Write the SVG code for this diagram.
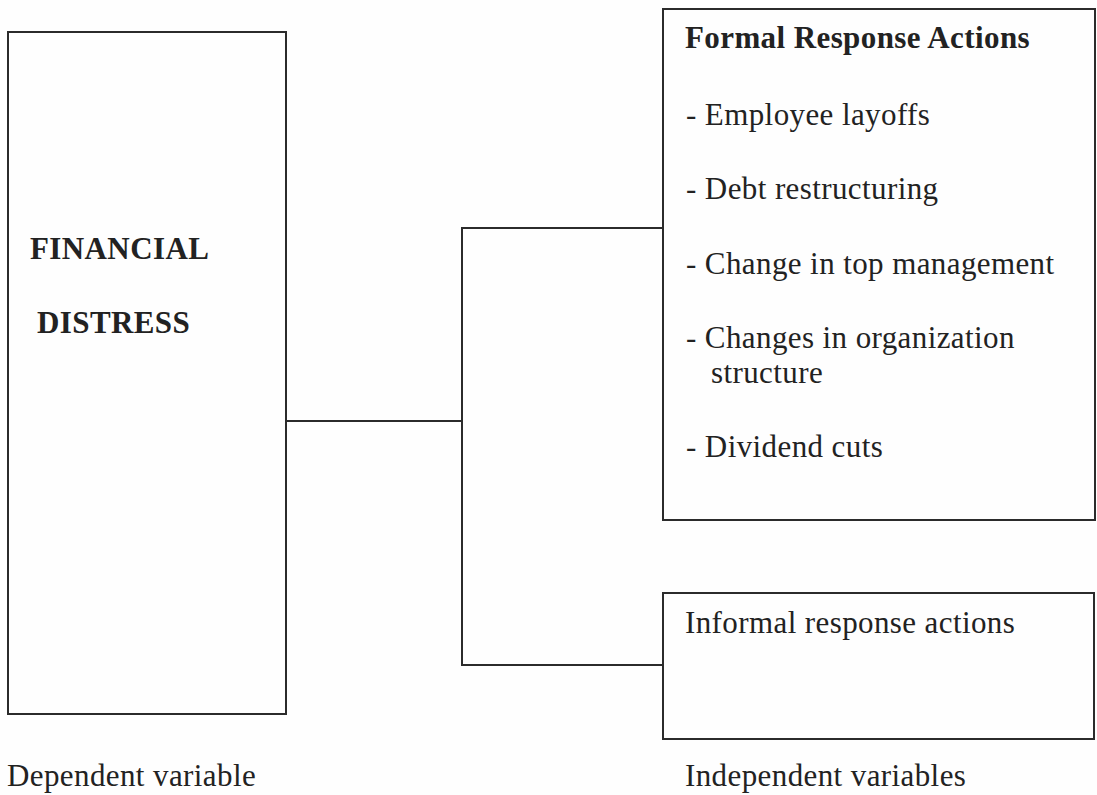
<svg xmlns="http://www.w3.org/2000/svg" width="1097" height="795" viewBox="0 0 1097 795">
<style>
.box{fill:none;stroke:#2b2b2b;stroke-width:2}
.conn{fill:none;stroke:#2b2b2b;stroke-width:2}
text{font-family:"Liberation Serif","Times New Roman",serif;fill:#222;font-size:31px;letter-spacing:0.4px}
.b{font-weight:bold}
</style>
<rect width="1097" height="795" fill="#fefefe"/>
<g id="connectors">
<polyline class="conn" points="286,421 462,421"/>
<polyline class="conn" points="663,228 462,228 462,665 663,665"/>
</g>
<g id="financial-distress">
<rect class="box" x="8" y="32" width="278" height="682"/>
<text class="b" x="30" y="259">FINANCIAL</text>
<text class="b" x="37" y="333">DISTRESS</text>
</g>
<g id="formal-response">
<rect class="box" x="663" y="9" width="432" height="511"/>
<text class="b" x="685" y="48">Formal Response Actions</text>
<text x="686" y="125">- Employee layoffs</text>
<text x="686" y="199">- Debt restructuring</text>
<text x="686" y="274">- Change in top management</text>
<text x="686" y="348">- Changes in organization</text>
<text x="711" y="383">structure</text>
<text x="686" y="457">- Dividend cuts</text>
</g>
<g id="informal-response">
<rect class="box" x="663" y="593" width="431" height="146"/>
<text x="685" y="633">Informal response actions</text>
</g>
<g id="labels">
<text x="7" y="786">Dependent variable</text>
<text x="685" y="786">Independent variables</text>
</g>
</svg>
